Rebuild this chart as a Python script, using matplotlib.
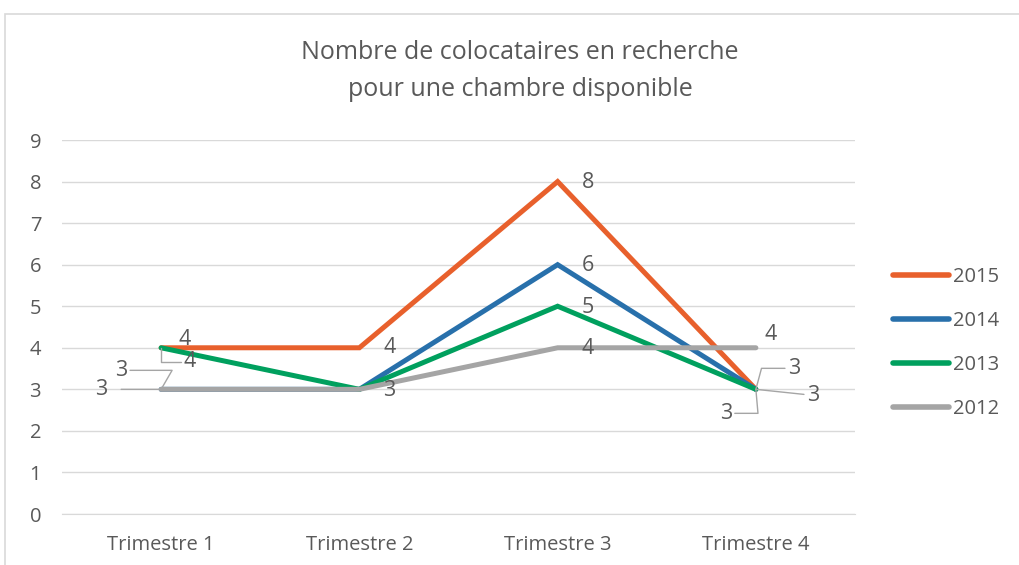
import matplotlib.pyplot as plt
from matplotlib.patches import Rectangle

plt.rcParams['font.family'] = ['Open Sans', 'DejaVu Sans']

categories = ['Trimestre 1', 'Trimestre 2', 'Trimestre 3', 'Trimestre 4']
years = ['2015', '2014', '2013', '2012']
v2015 = [4, 4, 8, 3]
v2014 = [3, 3, 6, 3]
v2013 = [4, 3, 5, 3]
v2012 = [3, 3, 4, 4]
series = [v2015, v2014, v2013, v2012]
colors = ['#E8602C', '#2870AB', '#00A05E', '#A5A5A5']

text_col = '#595959'
grid_col = '#D9D9D9'

fig = plt.figure(figsize=(10.2, 5.65), dpi=100)
ax = fig.add_axes([62 / 1020, 1 - 514 / 565, (855 - 62) / 1020, (514 - 140) / 565])

x = list(range(len(categories)))
for i, (name, vals, c) in enumerate(zip(years, series, colors)):
    ax.plot(x, vals, color=c, lw=3.6, label=name, solid_capstyle='round',
            solid_joinstyle='miter', zorder=3 + i, clip_on=False)

ax.set_xlim(-0.5, 3.5)
ax.set_ylim(0, 9)
ax.set_yticks(range(10))
ax.set_xticks(x)
ax.set_xticklabels(categories)
ax.yaxis.grid(True, color=grid_col, lw=1)
ax.set_axisbelow(True)
for s in ['top', 'right', 'left']:
    ax.spines[s].set_visible(False)
ax.spines['bottom'].set_color(grid_col)
ax.tick_params(length=0, labelsize=14.5, labelcolor=text_col)
ax.tick_params(axis='y', pad=15)
ax.tick_params(axis='x', pad=15)

# data labels
lead = dict(arrowstyle='-', color='#A5A5A5', lw=1, shrinkA=0, shrinkB=0)
def lab(si, pi, dx, dy, arrow=None):
    v = series[si][pi]
    ax.annotate(str(v), (pi, v), xytext=(dx, -dy), textcoords='offset pixels',
                ha='center', va='center', fontsize=15.5, color=text_col,
                arrowprops=arrow, zorder=10, annotation_clip=False)

# Trimestre 1
lab(0, 0, 24, -8)
lab(2, 0, 29, 14, arrow=dict(lead, connectionstyle='angle,angleA=0,angleB=90'))
lab(1, 0, -40, -19, arrow=dict(lead, connectionstyle='angle,angleA=0,angleB=60'))
lab(3, 0, -60, 0, arrow=dict(lead, connectionstyle='arc3', shrinkA=8))
# Trimestre 2
lab(0, 1, 30, 0)
lab(2, 1, 30, 1)
# Trimestre 3
for si in range(4):
    lab(si, 2, 30, 1)
# Trimestre 4
lab(3, 3, 15, -13)
lab(0, 3, 38, -21, arrow=dict(lead, connectionstyle='angle,angleA=0,angleB=75'))
lab(2, 3, 57, 6, arrow=dict(lead, connectionstyle='arc3'))
lab(1, 3, -30, 24, arrow=dict(lead, connectionstyle='angle,angleA=0,angleB=95'))

leg = ax.legend(loc='center left', bbox_to_anchor=(1.048, 0.457), frameon=False,
                fontsize=14.5, labelcolor=text_col, handlelength=2.8,
                handletextpad=0.2, labelspacing=1.2, borderaxespad=0, borderpad=0)
for h in leg.get_lines():
    h.set_linewidth(4)
    h.set_solid_capstyle('round')

fig.text(520 / 1020, 1 - 71 / 565, 'Nombre de colocataires en recherche\npour une chambre disponible',
         ha='center', va='center', fontsize=18, color=text_col, linespacing=1.6)

fig.patches.append(Rectangle((5 / 1020, -0.1), 1.2, 1 - 14 / 565 + 0.1, transform=fig.transFigure,
                             fill=False, edgecolor=grid_col, lw=1.2))

fig.savefig('out.png', dpi=100)
